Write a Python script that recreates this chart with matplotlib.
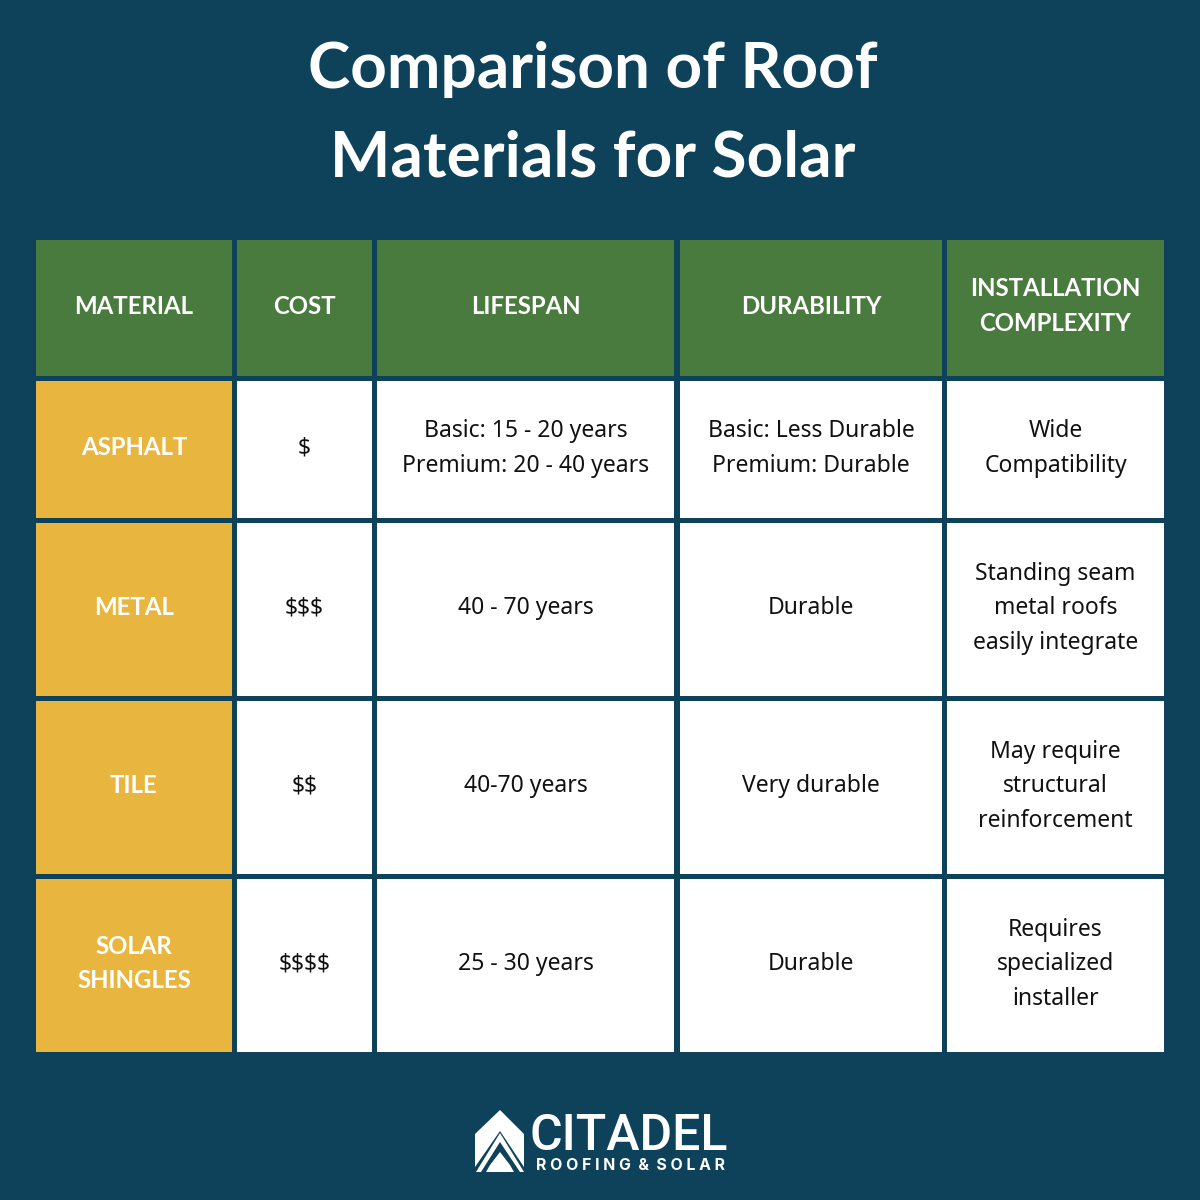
import matplotlib.pyplot as plt
import matplotlib.patches as patches

# table content
columns = ['MATERIAL', 'COST', 'LIFESPAN', 'DURABILITY', 'INSTALLATION\nCOMPLEXITY']
materials = ['ASPHALT', 'METAL', 'TILE', 'SOLAR\nSHINGLES']
cost = ['$', '$$$', '$$', '$$$$']
lifespan = ['Basic: 15 - 20 years\nPremium: 20 - 40 years', '40 - 70 years', '40-70 years', '25 - 30 years']
durability = ['Basic: Less Durable\nPremium: Durable', 'Durable', 'Very durable', 'Durable']
complexity = ['Wide\nCompatibility', 'Standing seam\nmetal roofs\neasily integrate',
              'May require\nstructural\nreinforcement', 'Requires\nspecialized\ninstaller']

# cell edges in pixels
col_edges = [(36, 232), (237, 372), (377, 674), (680, 942), (947, 1164)]
row_edges = [(240, 376), (381, 518), (523, 696), (701, 874), (879, 1052)]

c_bg = '#0e425b'
c_head = '#4a7b3e'
c_side = '#e8b63f'
c_text = '#111111'
font = 'Noto Sans'
font_bold = 'Lato'


def cell(ax, col, row, color, label, text_color, bold=False):
    x0, x1 = col_edges[col]
    y0, y1 = row_edges[row]
    ax.add_patch(patches.Rectangle((x0, y0), x1 - x0, y1 - y0, fc=color, ec='none'))
    ax.text((x0 + x1) / 2, (y0 + y1) / 2 - 2 if bold else (y0 + y1) / 2 - 1, label, ha='center', va='center',
            color=text_color, fontsize=17.3 if bold else 16.5, fontweight='bold' if bold else 'normal',
            family=font_bold if bold else font, linespacing=1.6 if bold else 1.58, parse_math=False)


def draw_logo(ax):
    roof = [(475, 1134), (500, 1110), (524, 1134), (524, 1167), (500, 1131), (475, 1167)]
    chevron = [(476, 1172), (500, 1133), (524, 1172), (520, 1172), (500, 1142), (481, 1172)]
    peak = [(490, 1165), (500, 1152), (510, 1165)]
    foot = [(486, 1172), (490, 1165), (510, 1165), (514, 1172), (510, 1172), (490, 1172)]
    for pts in [roof, chevron, peak, foot]:
        ax.add_patch(patches.Polygon(pts, closed=True, fc='white', ec='none'))
    ax.text(629, 1136, 'CITADEL', ha='center', va='center', color='white', fontsize=36,
            fontweight='medium', family='Roboto')
    ax.text(630, 1165, 'R O O F I N G  &  S O L A R', ha='center', va='center', color='white',
            fontsize=11.4, fontweight='bold', family='Inter')


fig = plt.figure(figsize=(12, 12), dpi=100, facecolor=c_bg)
ax = fig.add_axes([0, 0, 1, 1])
ax.set_xlim(0, 1200)
ax.set_ylim(1200, 0)
ax.axis('off')

ax.text(593, 69, 'Comparison of Roof', ha='center', va='center', color='white',
        fontsize=46, fontweight='bold', family=font_bold)
ax.text(593, 158, 'Materials for Solar', ha='center', va='center', color='white',
        fontsize=46, fontweight='bold', family=font_bold)

for c, label in enumerate(columns):
    cell(ax, c, 0, c_head, label, 'white', bold=True)

for r in range(4):
    cell(ax, 0, r + 1, c_side, materials[r], 'white', bold=True)
    cell(ax, 1, r + 1, 'white', cost[r], c_text)
    cell(ax, 2, r + 1, 'white', lifespan[r], c_text)
    cell(ax, 3, r + 1, 'white', durability[r], c_text)
    cell(ax, 4, r + 1, 'white', complexity[r], c_text)

draw_logo(ax)

fig.savefig('out.png', dpi=100, facecolor=c_bg)
